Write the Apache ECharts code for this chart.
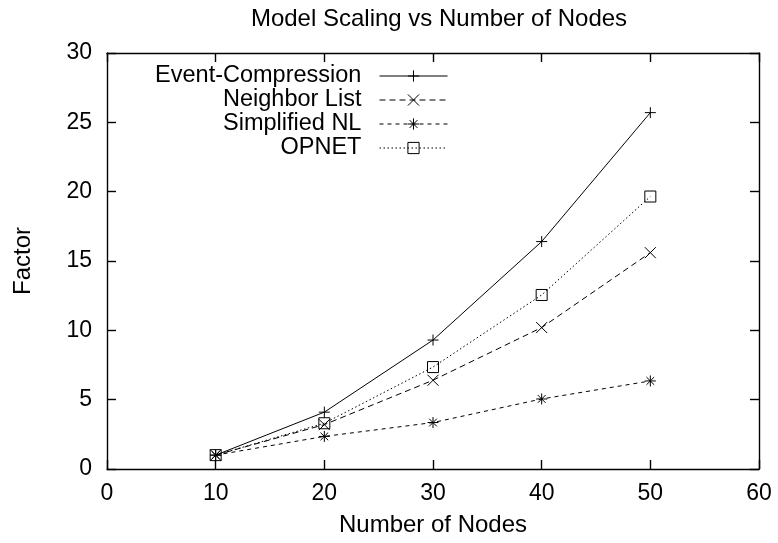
<!DOCTYPE html>
<html>
<head>
<meta charset="utf-8">
<script src="https://cdn.jsdelivr.net/npm/echarts@6/dist/echarts.min.js"></script>
<style>html,body{margin:0;padding:0;background:#fff}#c{width:778px;height:543px}</style>
</head>
<body>
<div id="c"></div>
<script>
var titleText = 'Model Scaling vs Number of Nodes';
var xName = 'Number of Nodes';
var yName = 'Factor';
var nodes = [10, 20, 30, 40, 50];
var eventCompression = [1.0, 4.1, 9.3, 16.4, 25.7];
var neighborList = [1.0, 3.2, 6.4, 10.2, 15.6];
var simplifiedNL = [1.0, 2.35, 3.35, 5.05, 6.35];
var opnet = [1.0, 3.3, 7.35, 12.55, 19.65];
var seriesNames = ['Event-Compression', 'Neighbor List', 'Simplified NL', 'OPNET'];

var FONT = 'Liberation Sans';
var chart = echarts.init(document.getElementById('c'), null, {renderer: 'canvas'});
function pairs(ys) { return nodes.map(function (x, i) { return [x, ys[i]]; }); }
var symPlus = 'path://M0,5L10,5M5,0L5,10';
var symCross = 'path://M0,0L10,10M0,10L10,0';
var symStar = 'path://M0,5L10,5M5,0L5,10M1.5,1.5L8.5,8.5M1.5,8.5L8.5,1.5';
var symBox = 'path://M0,0L10,0L10,10L0,10Z';
function mk(name, ys, sym, dash) {
  return {
    name: name, type: 'line', data: pairs(ys), symbol: sym, symbolSize: 11,
    showAllSymbol: true, animation: false,
    lineStyle: {color: '#000', width: 1, type: dash},
    itemStyle: {color: 'rgba(0,0,0,0)', borderColor: '#000', borderWidth: 1}
  };
}
var axisBase = {
  axisLine: {show: true, onZero: false, lineStyle: {color: '#000', width: 1.4}},
  axisTick: {show: true, inside: true, length: 9, lineStyle: {color: '#000', width: 1.4}},
  splitLine: {show: false}
};
chart.setOption({
  animation: false,
  backgroundColor: '#fff',
  title: {text: titleText, left: 434, top: 2, textAlign: 'center',
    textStyle: {fontFamily: FONT, fontSize: 24, fontWeight: 'normal', color: '#000'}},
  grid: {left: 107, right: 19, top: 53, bottom: 74},
  legend: {
    orient: 'vertical', align: 'right', right: 330, top: 64, padding: 0,
    itemWidth: 68, itemHeight: 14, itemGap: 0,
    data: seriesNames,
    formatter: function (n) { return n + '  '; },
    itemStyle: {color: 'rgba(0,0,0,0)', borderColor: '#000', borderWidth: 1},
    lineStyle: {width: 1, color: '#000'},
    textStyle: {fontFamily: FONT, fontSize: 23.5, lineHeight: 22.5, color: '#000'}
  },
  xAxis: [
    Object.assign({}, axisBase, {type: 'value', min: 0, max: 60, interval: 10, position: 'bottom',
      name: xName, nameLocation: 'middle', nameGap: 44,
      nameTextStyle: {fontFamily: FONT, fontSize: 24, color: '#000'},
      axisLabel: {fontFamily: FONT, fontSize: 23, color: '#000', margin: 13}}),
    Object.assign({}, axisBase, {type: 'value', min: 0, max: 60, interval: 10, position: 'top',
      axisLabel: {show: false}})
  ],
  yAxis: [
    Object.assign({}, axisBase, {type: 'value', min: 0, max: 30, interval: 5, position: 'left',
      name: yName, nameLocation: 'middle', nameGap: 72,
      nameTextStyle: {fontFamily: FONT, fontSize: 24, color: '#000'},
      axisLabel: {fontFamily: FONT, fontSize: 23, color: '#000', margin: 15}}),
    Object.assign({}, axisBase, {type: 'value', min: 0, max: 30, interval: 5, position: 'right',
      axisLabel: {show: false}})
  ],
  series: [
    mk(seriesNames[0], eventCompression, symPlus, 'solid'),
    mk(seriesNames[1], neighborList, symCross, [6, 4]),
    mk(seriesNames[2], simplifiedNL, symStar, [4, 4]),
    mk(seriesNames[3], opnet, symBox, [1.5, 2.5])
  ]
});
</script>
</body>
</html>
